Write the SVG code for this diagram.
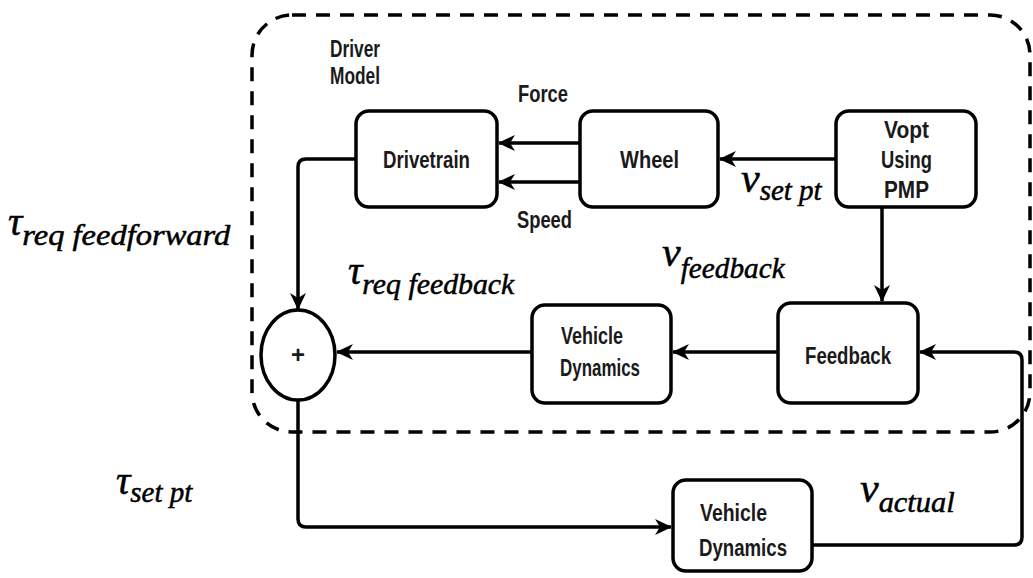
<svg xmlns="http://www.w3.org/2000/svg" width="1033" height="578" viewBox="0 0 1033 578">
<style>
.box{fill:#fff;stroke:#000;stroke-width:3.5}
.lbl{font-family:"Liberation Sans",Arial,sans-serif;font-weight:bold;font-size:24px;fill:#1a1a1a}
.sm{font-family:"Liberation Sans",Arial,sans-serif;font-weight:bold;font-size:23px;fill:#1a1a1a}
.math{font-family:"Liberation Serif","DejaVu Serif",serif;font-style:italic;fill:#000;stroke:#000;stroke-width:0.5}
.conn{fill:none;stroke:#000;stroke-width:3.5}
</style>
<defs>
<marker id="ah" markerUnits="userSpaceOnUse" markerWidth="18" markerHeight="18" refX="16" refY="9" orient="auto">
<path d="M0,1 L17,9 L0,17 L5,9 z" fill="#000"/>
</marker>
</defs>
<rect width="1033" height="578" fill="#fff"/>
<g id="driver-model-boundary">
<rect x="252" y="15" width="778" height="417" rx="40" ry="40" fill="none" stroke="#000" stroke-width="3.5" stroke-dasharray="14 10"/>
<text class="sm" x="330" y="57" textLength="50" lengthAdjust="spacingAndGlyphs">Driver</text>
<text class="sm" x="330" y="84" textLength="50" lengthAdjust="spacingAndGlyphs">Model</text>
</g>
<g id="connectors">
<path class="conn" d="M580,143 L499,143" marker-end="url(#ah)"/>
<path class="conn" d="M580,182 L499,182" marker-end="url(#ah)"/>
<path class="conn" d="M836,159 L720,159" marker-end="url(#ah)"/>
<path class="conn" d="M882,207 L882,301" marker-end="url(#ah)"/>
<path class="conn" d="M778,352 L673,352" marker-end="url(#ah)"/>
<path class="conn" d="M532,352 L337,352" marker-end="url(#ah)"/>
<path class="conn" d="M356,159 L306,159 Q298,159 298,167 L298,309" marker-end="url(#ah)"/>
<path class="conn" d="M298,400 L298,519 Q298,527 306,527 L671,527" marker-end="url(#ah)"/>
<path class="conn" d="M812,545 L1014,545 Q1022,545 1022,537 L1022,360 Q1022,352 1014,352 L920,352" marker-end="url(#ah)"/>
<text class="sm" x="518" y="102" font-size="21" textLength="50" lengthAdjust="spacingAndGlyphs">Force</text>
<text class="sm" x="517" y="228" font-size="21" textLength="55" lengthAdjust="spacingAndGlyphs">Speed</text>
</g>
<g id="drivetrain">
<rect class="box" x="356" y="111" width="141" height="96" rx="13"/>
<text class="lbl" x="383" y="168" textLength="87" lengthAdjust="spacingAndGlyphs">Drivetrain</text>
</g>
<g id="wheel">
<rect class="box" x="580" y="111" width="138" height="96" rx="13"/>
<text class="lbl" x="620" y="168" textLength="59" lengthAdjust="spacingAndGlyphs">Wheel</text>
</g>
<g id="vopt">
<rect class="box" x="836" y="111" width="140" height="96" rx="13"/>
<text class="lbl" x="884" y="138" textLength="45" lengthAdjust="spacingAndGlyphs">Vopt</text>
<text class="lbl" x="881" y="168" textLength="51" lengthAdjust="spacingAndGlyphs">Using</text>
<text class="lbl" x="884" y="198" textLength="45" lengthAdjust="spacingAndGlyphs">PMP</text>
</g>
<g id="feedback">
<rect class="box" x="778" y="303" width="140" height="100" rx="13"/>
<text class="lbl" x="805" y="364" textLength="86" lengthAdjust="spacingAndGlyphs">Feedback</text>
</g>
<g id="vehicle-dynamics-inner">
<rect class="box" x="532" y="305" width="139" height="98" rx="13"/>
<text class="lbl" x="561" y="344" font-size="21" textLength="62" lengthAdjust="spacingAndGlyphs">Vehicle</text>
<text class="lbl" x="560" y="376" font-size="21" textLength="80" lengthAdjust="spacingAndGlyphs">Dynamics</text>
</g>
<g id="sum">
<ellipse cx="298" cy="355" rx="37" ry="45" fill="#fff" stroke="#000" stroke-width="3.5"/>
<text class="lbl" x="298" y="363" text-anchor="middle" font-size="22">+</text>
</g>
<g id="vehicle-dynamics-plant">
<rect class="box" x="673" y="480" width="139" height="91" rx="13"/>
<text class="lbl" x="700" y="521" font-size="20" textLength="67" lengthAdjust="spacingAndGlyphs">Vehicle</text>
<text class="lbl" x="699" y="556" font-size="20" textLength="88" lengthAdjust="spacingAndGlyphs">Dynamics</text>
</g>
<g id="labels">
<text class="math" x="8" y="235" font-size="40">τ<tspan font-size="29" dy="10" textLength="208" lengthAdjust="spacingAndGlyphs">req feedforward</tspan></text>
<text class="math" x="348" y="284" font-size="40">τ<tspan font-size="29" dy="10" textLength="152" lengthAdjust="spacingAndGlyphs">req feedback</tspan></text>
<text class="math" x="662" y="266" font-size="42">v<tspan font-size="29" dy="12" textLength="104" lengthAdjust="spacingAndGlyphs">feedback</tspan></text>
<text class="math" x="741" y="192" font-size="42">v<tspan font-size="29" dy="8" textLength="62" lengthAdjust="spacingAndGlyphs">set pt</tspan></text>
<text class="math" x="116" y="494" font-size="40">τ<tspan font-size="29" dy="8" textLength="62" lengthAdjust="spacingAndGlyphs">set pt</tspan></text>
<text class="math" x="860" y="502" font-size="42">v<tspan font-size="29" dy="10" textLength="76" lengthAdjust="spacingAndGlyphs">actual</tspan></text>
</g>
</svg>
